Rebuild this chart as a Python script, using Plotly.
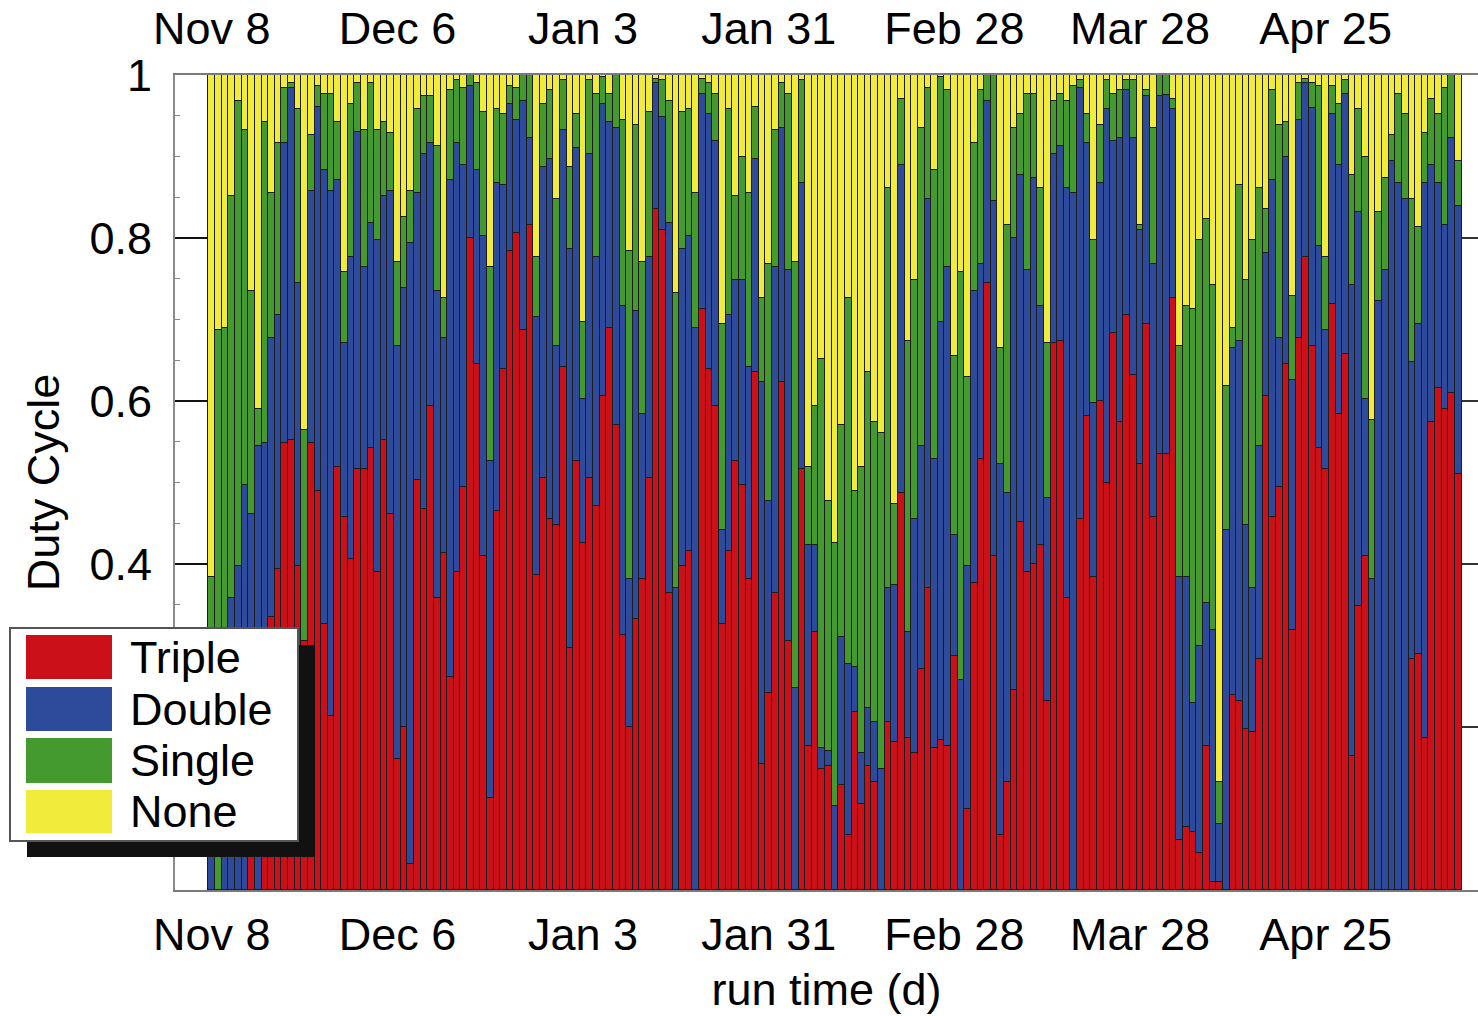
import pandas as pd
import plotly.graph_objects as go

# Cumulative duty-cycle boundaries (one value per day, from Nov 8)
# triple_top: top of red; double_top: top of blue; single_top: top of green; yellow fills to 1
triple_top = [0.00, 0.00, 0.00, 0.00, 0.00, 0.00, 0.12, 0.00, 0.25, 0.335,
              0.394, 0.548, 0.552, 0.397, 0.306, 0.548, 0.490, 0.326, 0.213, 0.519,
              0.458, 0.406, 0.516, 0.516, 0.542, 0.390, 0.552, 0.461, 0.161, 0.200,
              0.032, 0.503, 0.468, 0.594, 0.358, 0.413, 0.261, 0.390, 0.494, 0.800,
              0.645, 0.410, 0.113, 0.465, 0.639, 0.784, 0.806, 0.687, 0.816, 0.387,
              0.506, 0.455, 0.448, 0.642, 0.297, 0.526, 0.426, 0.506, 0.471, 0.606,
              0.690, 0.571, 0.313, 0.200, 0.332, 0.381, 0.506, 0.835, 0.810, 0.365,
              0.000, 0.397, 0.416, 0.000, 0.713, 0.639, 0.594, 0.326, 0.416, 0.526,
              0.497, 0.381, 0.635, 0.155, 0.242, 0.365, 0.623, 0.306, 0.000, 0.516,
              0.177, 0.316, 0.148, 0.152, 0.000, 0.129, 0.068, 0.219, 0.106, 0.152,
              0.132, 0.000, 0.206, 0.181, 0.487, 0.187, 0.168, 0.271, 0.371, 0.174,
              0.184, 0.177, 0.287, 0.000, 0.100, 0.377, 0.529, 0.745, 0.410, 0.068,
              0.132, 0.245, 0.452, 0.390, 0.400, 0.423, 0.232, 0.671, 0.674, 0.358,
              0.000, 0.455, 0.581, 0.384, 0.600, 0.500, 0.684, 0.574, 0.706, 0.632,
              0.523, 0.694, 0.458, 0.535, 0.535, 0.726, 0.061, 0.077, 0.071, 0.045,
              0.177, 0.010, 0.010, 0.000, 0.239, 0.232, 0.197, 0.194, 0.284, 0.606,
              0.458, 0.494, 0.645, 0.319, 0.677, 0.777, 0.667, 0.542, 0.516, 0.719,
              0.584, 0.658, 0.165, 0.348, 0.410, 0.000, 0.000, 0.000, 0.000, 0.000,
              0.000, 0.284, 0.290, 0.187, 0.574, 0.616, 0.590, 0.610, 0.510]

double_top = [0.04, 0.00, 0.28, 0.358, 0.397, 0.497, 0.461, 0.545, 0.548, 0.677,
              0.706, 0.916, 0.984, 0.745, 0.306, 0.858, 0.961, 0.884, 0.858, 0.871,
              0.671, 0.777, 0.930, 0.765, 0.819, 0.797, 0.852, 0.858, 0.668, 0.739,
              0.794, 0.855, 0.903, 0.916, 0.735, 0.677, 0.871, 0.916, 0.890, 0.987,
              0.884, 0.803, 0.526, 0.868, 0.865, 0.964, 0.945, 0.968, 0.923, 0.703,
              0.887, 0.897, 0.668, 0.932, 0.787, 0.910, 0.603, 0.903, 0.777, 0.965,
              0.942, 0.935, 0.716, 0.381, 0.710, 0.584, 0.777, 0.990, 0.948, 0.819,
              0.371, 0.787, 0.803, 0.690, 0.977, 0.952, 0.919, 0.442, 0.706, 0.748,
              0.748, 0.642, 0.897, 0.623, 0.477, 0.765, 0.935, 0.761, 0.248, 0.868,
              0.423, 0.423, 0.174, 0.171, 0.103, 0.310, 0.277, 0.274, 0.168, 0.223,
              0.206, 0.148, 0.371, 0.374, 0.890, 0.316, 0.455, 0.545, 0.848, 0.529,
              0.697, 0.765, 0.435, 0.258, 0.397, 0.735, 0.768, 0.968, 0.845, 0.523,
              0.487, 0.800, 0.877, 0.761, 0.874, 0.716, 0.481, 0.903, 0.913, 0.861,
              0.855, 0.984, 0.916, 0.597, 0.868, 0.958, 0.919, 0.923, 0.981, 0.923,
              0.810, 0.974, 0.768, 0.974, 0.975, 0.958, 0.384, 0.384, 0.229, 0.300,
              0.352, 0.319, 0.081, 0.442, 0.665, 0.674, 0.448, 0.371, 0.545, 0.781,
              0.871, 0.677, 0.900, 0.626, 0.945, 0.990, 0.960, 0.790, 0.687, 0.952,
              0.890, 0.977, 0.742, 0.832, 0.603, 0.381, 0.723, 0.761, 0.894, 0.868,
              0.848, 0.648, 0.694, 0.868, 0.890, 0.868, 0.816, 0.923, 0.839]

single_top = [0.384, 0.687, 0.690, 0.852, 0.968, 0.932, 0.735, 0.590, 0.942, 0.855,
              0.916, 0.984, 0.990, 0.958, 0.565, 0.926, 0.987, 0.977, 0.977, 0.942,
              0.758, 0.965, 0.990, 0.932, 0.990, 0.932, 0.942, 0.929, 0.771, 0.826,
              0.858, 0.958, 0.974, 0.974, 0.913, 0.726, 0.981, 0.994, 0.984, 1.000,
              0.990, 0.955, 0.765, 0.958, 0.952, 0.987, 0.984, 1.000, 1.000, 0.777,
              0.965, 0.981, 0.848, 0.994, 0.887, 0.952, 0.697, 0.994, 0.977, 0.997,
              0.977, 1.000, 0.945, 0.784, 0.939, 0.771, 0.955, 0.995, 0.994, 0.968,
              0.732, 0.955, 0.958, 0.855, 0.995, 0.990, 0.977, 0.694, 0.958, 0.852,
              0.900, 0.855, 0.961, 0.726, 0.768, 0.932, 0.990, 0.977, 0.771, 0.994,
              0.519, 0.594, 0.652, 0.477, 0.426, 0.571, 0.726, 0.490, 0.519, 0.635,
              0.574, 0.561, 0.861, 0.474, 0.971, 0.674, 0.748, 0.935, 0.984, 0.884,
              0.997, 0.981, 0.655, 0.758, 0.629, 0.916, 0.981, 1.000, 1.000, 0.665,
              0.816, 0.935, 0.952, 0.977, 0.977, 0.861, 0.671, 0.968, 0.977, 0.968,
              0.987, 0.994, 0.952, 0.797, 0.939, 0.994, 0.977, 0.981, 0.994, 0.994,
              0.816, 0.981, 0.935, 1.000, 1.000, 0.971, 0.668, 0.716, 0.713, 0.797,
              0.823, 0.742, 0.132, 0.619, 0.690, 0.865, 0.748, 0.797, 0.861, 0.835,
              0.981, 0.939, 0.942, 0.729, 0.990, 0.995, 0.990, 0.987, 0.777, 0.987,
              0.965, 0.994, 0.877, 0.958, 0.900, 0.577, 0.832, 0.874, 0.926, 0.977,
              0.952, 0.848, 0.813, 0.929, 0.971, 0.952, 0.984, 1.000, 0.894]

total_top = [1.0] * len(triple_top)  # duty cycle fractions sum to 1

tick_dates = ["2009-11-08", "2009-12-06", "2010-01-03", "2010-01-31",
              "2010-02-28", "2010-03-28", "2010-04-25"]
tick_labels = ["Nov 8", "Dec 6", "Jan 3", "Jan 31", "Feb 28", "Mar 28", "Apr 25"]
y_tickvals = [0.2, 0.4, 0.6, 0.8, 1.0]
y_ticktext = ["", "0.4", "0.6", "0.8", "1"]   # the 0.2 label is hidden behind the legend

series_names = ["Triple", "Double", "Single", "None"]
colors = {"Triple": "#cb1019", "Double": "#2d4b9a", "Single": "#459a2f", "None": "#f1eb3b"}

dates = pd.date_range("2009-11-08", periods=len(triple_top), freq="D")

W, H = 1478, 1016
L, R, T, B = 175, 0, 75, 126
PW, PH = W - L - R, H - T - B

def px_x(p):
    return (p - L) / PW

def px_y(p):
    return (H - B - p) / PH

FONT = "Liberation Sans, Arial, sans-serif"
fig = go.Figure()

line = dict(color="#1c1c1c", width=1)
for name, vals in [("None", total_top), ("Single", single_top),
                   ("Double", double_top), ("Triple", triple_top)]:
    fig.add_trace(go.Bar(x=dates, y=vals, name=name, marker=dict(color=colors[name], line=line),
                         opacity=1, showlegend=False))

# invisible helper trace so that the mirrored (top / right) axes are drawn
fig.add_trace(go.Scatter(x=[dates[0]], y=[0.5], xaxis="x2", yaxis="y2", mode="markers",
                         marker=dict(opacity=0), showlegend=False, hoverinfo="skip"))

x_start = pd.Timestamp("2009-11-08") - pd.Timedelta(hours=5.55 * 24)
x_end = pd.Timestamp("2009-11-08") + pd.Timedelta(hours=190.98 * 24)

xcommon = dict(type="date", range=[x_start, x_end], tickvals=tick_dates, ticktext=tick_labels,
               showgrid=False, zeroline=False, ticks="", tickfont=dict(size=45, family=FONT, color="black"))

fig.update_layout(
    width=W, height=H,
    margin=dict(l=L, r=R, t=T, b=B, autoexpand=False),
    paper_bgcolor="white", plot_bgcolor="white",
    barmode="overlay", bargap=0,
    font=dict(family=FONT, size=45, color="black"),
    showlegend=False,
    xaxis=dict(**xcommon, showline=True, linecolor="#7a7a7a", linewidth=2, mirror=True,
               ticklabelstandoff=4,
               title=dict(text="run time (d)", font=dict(size=45, family=FONT), standoff=14)),
    xaxis2=dict(**xcommon, overlaying="x", side="top", matches="x", showline=False,
                ticklabelstandoff=21),
    yaxis=dict(range=[0, 1], tickvals=y_tickvals, ticktext=y_ticktext, showgrid=False,
               zeroline=False, showline=True, linecolor="#8a8a8a", linewidth=2,
               ticks="inside", ticklen=33, tickwidth=1.5, tickcolor="#111",
               minor=dict(dtick=0.05, ticks="inside", ticklen=5, tickcolor="#888", tickwidth=1),
               ticklabelstandoff=12,
               tickfont=dict(size=45, family=FONT, color="black"),
               title=dict(text="Duty Cycle", font=dict(size=45, family=FONT), standoff=16)),
    yaxis2=dict(range=[0, 1], overlaying="y", side="right", matches="y", showgrid=False,
                zeroline=False, showline=False, tickvals=[0.2, 0.4, 0.6, 0.8],
                ticks="inside", ticklen=16, tickwidth=1.5, tickcolor="#333",
                showticklabels=False),
)

# custom legend with large swatches and drop shadow
shapes = []
shapes.append(dict(type="rect", xref="paper", yref="paper", layer="above",
                   x0=px_x(27), x1=px_x(315), y0=px_y(857), y1=px_y(645),
                   fillcolor="#111111", line=dict(width=0)))
shapes.append(dict(type="rect", xref="paper", yref="paper", layer="above",
                   x0=px_x(10), x1=px_x(298), y0=px_y(841), y1=px_y(628),
                   fillcolor="white", line=dict(color="#555555", width=2)))
sw_rows = [(635, 679), (687, 731), (738, 783), (790, 833)]
annotations = []
for name, (y0, y1) in zip(series_names, sw_rows):
    shapes.append(dict(type="rect", xref="paper", yref="paper", layer="above",
                       x0=px_x(26), x1=px_x(112), y0=px_y(y1), y1=px_y(y0),
                       fillcolor=colors[name], line=dict(width=0)))
    annotations.append(dict(text=name, xref="paper", yref="paper", x=px_x(128),
                            y=px_y((y0 + y1) / 2), xanchor="left", yanchor="middle",
                            showarrow=False, font=dict(size=45, family=FONT, color="black")))

fig.update_layout(shapes=shapes, annotations=annotations)
fig.write_html("out.html")
